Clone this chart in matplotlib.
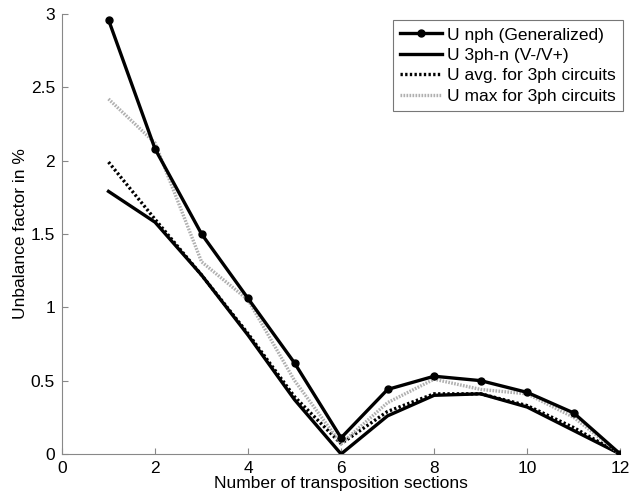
import numpy as np
import matplotlib.pyplot as plt

plt.rcParams['font.family'] = ['Liberation Sans', 'DejaVu Sans']

# number of transposition sections
sections = [1, 2, 3, 4, 5, 6, 7, 8, 9, 10, 11, 12]

# unbalance factors in %
u_nph = [2.96, 2.08, 1.50, 1.06, 0.62, 0.11, 0.44, 0.53, 0.50, 0.42, 0.28, 0.0]
u_3ph_n = [1.79, 1.58, 1.22, 0.81, 0.37, 0.0, 0.26, 0.40, 0.41, 0.32, 0.16, 0.0]
u_avg = [1.99, 1.60, 1.22, 0.82, 0.39, 0.07, 0.29, 0.41, 0.41, 0.33, 0.18, 0.0]
u_max = [2.42, 2.12, 1.31, 1.05, 0.50, 0.07, 0.35, 0.51, 0.44, 0.41, 0.25, 0.0]

labels = ['U nph (Generalized)', 'U 3ph-n (V-/V+)',
          'U avg. for 3ph circuits', 'U max for 3ph circuits']

fig = plt.figure(figsize=(6.3, 4.99), dpi=100)
ax = fig.add_axes([0.0984, 0.0902, 0.886, 0.882])

ax.plot(sections, u_nph, color='black', lw=2.4, marker='o', ms=5, label=labels[0], zorder=5)
ax.plot(sections, u_3ph_n, color='black', lw=2.4, label=labels[1], zorder=3)
ax.plot(sections, u_avg, color='black', lw=2.4, linestyle=(0, (0.7, 0.7)), label=labels[2], zorder=3)
ax.plot(sections, u_max, color='#b0b0b0', lw=2.4, linestyle=(0, (0.5, 0.4)), label=labels[3], zorder=4)

ax.set_xlim(0, 12)
ax.set_ylim(0, 3)
ax.set_xticks(range(0, 13, 2))
ax.set_yticks([0, 0.5, 1, 1.5, 2, 2.5, 3])
ax.set_yticklabels(['0', '0.5', '1', '1.5', '2', '2.5', '3'])

for side in ['top', 'right']:
    ax.spines[side].set_visible(False)
for side in ['left', 'bottom']:
    ax.spines[side].set_color('#888888')
ax.tick_params(direction='in', length=4, color='#888888', labelsize=12.5, pad=5)

ax.set_xlabel('Number of transposition sections', fontsize=12.5, labelpad=0)
ax.set_ylabel('Unbalance factor in %', fontsize=12.5, labelpad=2)

leg = ax.legend(loc='upper right', fontsize=12.5, frameon=True, fancybox=False,
                borderpad=0.4, labelspacing=0.3, handlelength=2.4,
                handletextpad=0.3, borderaxespad=0.0, bbox_to_anchor=(1.005, 0.985))
leg.get_frame().set_edgecolor('#555555')
leg.get_frame().set_linewidth(0.8)

fig.savefig('out.png', dpi=100)
